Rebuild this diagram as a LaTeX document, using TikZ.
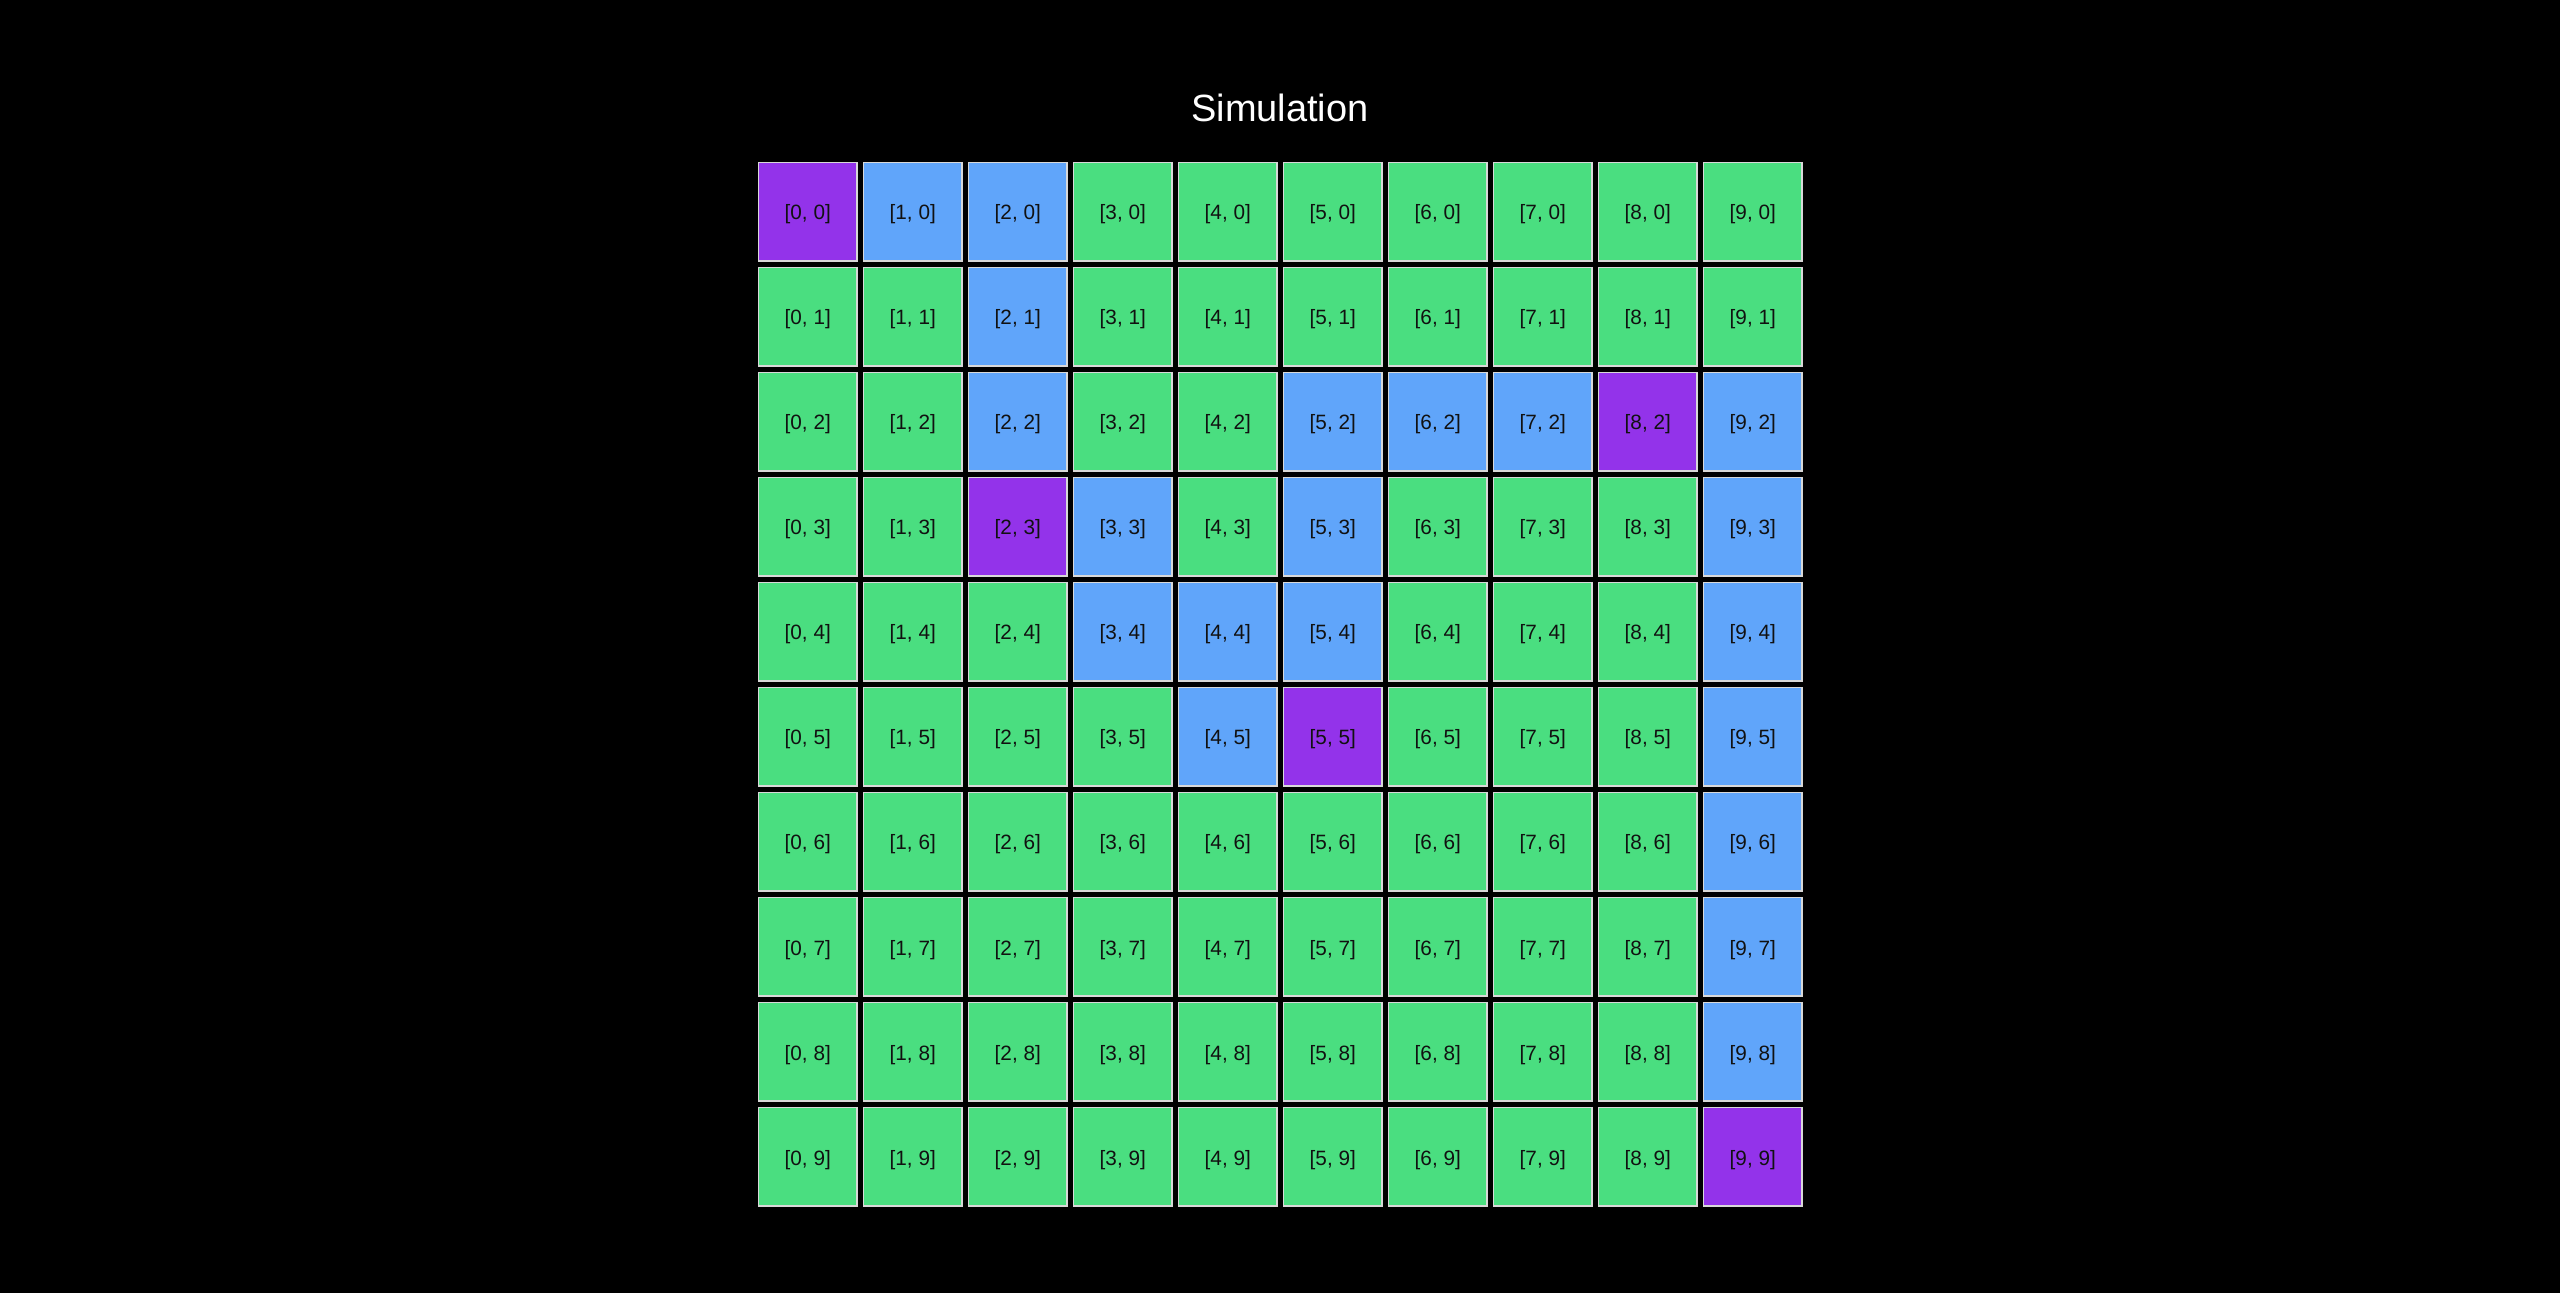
\documentclass[tikz,border=0pt]{standalone}
\usepackage{fontspec}
\setmainfont{Liberation Sans}
\usepackage{xcolor}

\definecolor{simp}{HTML}{9333EA}
\definecolor{simb}{HTML}{60A5FA}
\definecolor{simg}{HTML}{4ADE80}
\definecolor{simedge}{HTML}{D8D8D8}
\definecolor{simtext}{HTML}{111111}

\begin{document}
\begin{tikzpicture}[
        cell/.style={draw=simedge, line width=0.3pt, minimum size=0.985cm,
            inner sep=0pt, text height=0.22cm, text depth=0.055cm,
            text=simtext, font=\fontsize{5.9}{7}\selectfont},
        title/.style={text=white, anchor=base, font=\fontsize{10.8}{13}\selectfont}
    ]
        \fill[black] (0,0) rectangle (25.6,12.93);
        \useasboundingbox (0,0) rectangle (25.6,12.93);

        \node[title] (title) at (12.8,11.715) {Simulation};

        % one row of colours per grid row
        \foreach \j/\row in {
                0/{p,b,b,g,g,g,g,g,g,g},
                1/{g,g,b,g,g,g,g,g,g,g},
                2/{g,g,b,g,g,b,b,b,p,b},
                3/{g,g,p,b,g,b,g,g,g,b},
                4/{g,g,g,b,b,b,g,g,g,b},
                5/{g,g,g,g,b,p,g,g,g,b},
                6/{g,g,g,g,g,g,g,g,g,b},
                7/{g,g,g,g,g,g,g,g,g,b},
                8/{g,g,g,g,g,g,g,g,g,b},
                9/{g,g,g,g,g,g,g,g,g,p}}
            \foreach \c [count=\i from 0] in \row
                \node[cell, fill=sim\c] (c-\i-\j)
                    at ({8.0775+1.05*\i},{10.8125-1.05*\j}) {[\i, \j]};
    \end{tikzpicture}
\end{document}
